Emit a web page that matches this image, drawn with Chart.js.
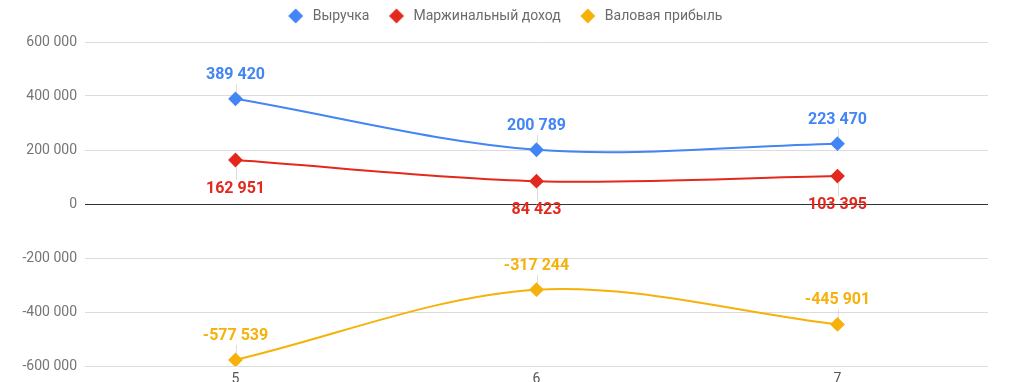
<!DOCTYPE html>
<html>
<head>
<meta charset="utf-8">
<script src="https://cdn.jsdelivr.net/npm/chart.js@4/dist/chart.umd.min.js"></script>
<style>
html,body{margin:0;padding:0;background:#fff;overflow:hidden;}
#wrap{width:1024px;height:400px;position:relative;}
</style>
</head>
<body>
<div id="wrap"><canvas id="c"></canvas></div>
<script>
const categories = ['5', '6', '7'];
const seriesNames = ['Выручка', 'Маржинальный доход', 'Валовая прибыль'];
const revenue = [389420, 200789, 223470];
const marginal = [162951, 84423, 103395];
const gross = [-577539, -317244, -445901];
const yTickValues = [-600000, -400000, -200000, 0, 200000, 400000, 600000];

const colors = ['#4285f4', '#e3291d', '#f6b10a'];
const labelOffset = [-24, 29, -24]; // negative = above

function fmt(v) {
  const s = Math.abs(v).toString().replace(/\B(?=(\d{3})+(?!\d))/g, ' ');
  return (v < 0 ? '-' : '') + s;
}

function diamondIcon(color) {
  const c = document.createElement('canvas');
  c.width = 30; c.height = 16;
  const g = c.getContext('2d');
  const cx = 12, cy = 8, r = 7.5;
  g.fillStyle = color;
  g.beginPath();
  g.moveTo(cx - r, cy); g.lineTo(cx, cy - r); g.lineTo(cx + r, cy); g.lineTo(cx, cy + r);
  g.closePath(); g.fill();
  return c;
}
const legendIcons = colors.map(diamondIcon);

const labelPlugin = {
  id: 'pointLabels',
  afterDatasetsDraw(chart) {
    const ctx = chart.ctx;
    ctx.save();
    ctx.font = 'bold 16px Roboto';
    ctx.textAlign = 'center';
    ctx.textBaseline = 'middle';
    chart.data.datasets.forEach((ds, i) => {
      const meta = chart.getDatasetMeta(i);
      const off = labelOffset[i];
      const side = Math.sign(off);
      meta.data.forEach((pt, j) => {
        const ly = pt.y + off;
        ctx.strokeStyle = 'rgba(200,200,200,0.6)';
        ctx.lineWidth = 1;
        ctx.beginPath();
        ctx.moveTo(Math.round(pt.x) + 0.5, pt.y + side * 6);
        ctx.lineTo(Math.round(pt.x) + 0.5, ly - side * 9);
        ctx.stroke();
        ctx.fillStyle = colors[i];
        ctx.fillText(fmt(ds.data[j]), pt.x, ly);
      });
    });
    ctx.restore();
  }
};

const legendTweak = {
  id: 'legendTweak',
  afterInit(chart) {
    const lg = chart.legend;
    if (!lg) return;
    const orig = lg.fit.bind(lg);
    lg.fit = function () { orig(); this.height = 42; };
  },
  afterLayout(chart) {
    const lg = chart.legend;
    if (!lg) return;
    lg.top -= 14; lg.bottom -= 14;
    lg.left += 13; lg.right += 13;
  }
};

const datasets = [revenue, marginal, gross].map((d, i) => ({
  label: seriesNames[i],
  data: d,
  borderColor: colors[i],
  backgroundColor: colors[i],
  borderWidth: 2,
  pointStyle: 'rectRot',
  pointRadius: 6,
  pointHoverRadius: 6,
  tension: 0.33,
  fill: false
}));

new Chart(document.getElementById('c'), {
  type: 'line',
  data: { labels: categories, datasets },
  options: {
    responsive: true,
    maintainAspectRatio: false,
    animation: false,
    layout: { padding: { left: 0, right: 36, top: 0, bottom: 0 } },
    plugins: {
      legend: {
        position: 'top',
        labels: {
          usePointStyle: true,
          boxWidth: 14,
          boxHeight: 10,
          padding: 23,
          color: '#6b6b6b',
          font: { family: 'Roboto', size: 14 },
          generateLabels(chart) {
            const items = Chart.defaults.plugins.legend.labels.generateLabels(chart);
            items.forEach((it, i) => { it.pointStyle = legendIcons[i]; });
            return items;
          }
        }
      },
      tooltip: { enabled: false }
    },
    scales: {
      x: {
        offset: true,
        grid: { display: false, drawTicks: false },
        border: { display: false },
        ticks: { color: '#555', padding: 5, font: { family: 'Roboto', size: 14 } },
        afterFit(s) { s.height = 34; }
      },
      y: {
        min: -600000,
        max: 600000,
        afterBuildTicks(s) { s.ticks = yTickValues.map(v => ({ value: v })); },
        grid: {
          color: (c) => c.tick && c.tick.value === 0 ? '#333' : '#dcdcdc',
          lineWidth: 1,
          drawTicks: false
        },
        border: { display: false },
        ticks: {
          color: '#757575',
          padding: 8,
          font: { family: 'Roboto', size: 14 },
          callback: (v) => fmt(v)
        },
        afterFit(s) { s.width = 85; }
      }
    }
  },
  plugins: [labelPlugin, legendTweak]
});
</script>
</body>
</html>
